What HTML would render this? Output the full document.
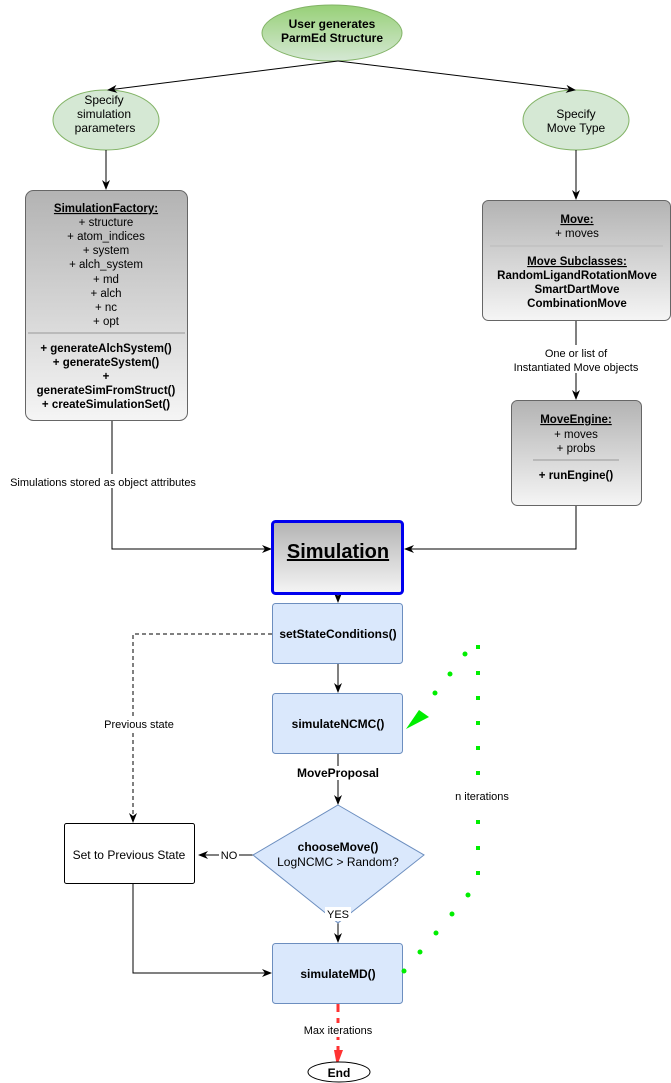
<!DOCTYPE html>
<html><head><meta charset="utf-8"><style>
body{margin:0;background:#fff}
svg{display:block;font-family:"Liberation Sans",Arial,sans-serif}
</style></head><body>
<svg width="671" height="1083" viewBox="0 0 671 1083" xmlns="http://www.w3.org/2000/svg">
<defs>
<linearGradient id="gg2" x1="0" y1="0" x2="0" y2="1"><stop offset="0" stop-color="#97d077"/><stop offset="1" stop-color="#d5e8d4"/></linearGradient>
<linearGradient id="gr" x1="0" y1="0" x2="0" y2="1"><stop offset="0" stop-color="#b3b3b3"/><stop offset="1" stop-color="#f5f5f5"/></linearGradient>
<marker id="a" viewBox="0 0 10 10" refX="9" refY="5" markerWidth="10" markerHeight="10" orient="auto" markerUnits="userSpaceOnUse"><path d="M0,1 L10,5 L0,9 L3,5z" fill="#000"/></marker>
</defs>
<ellipse cx="332" cy="33" rx="70" ry="28" fill="url(#gg2)" stroke="#82b366"/>
<ellipse cx="106" cy="120" rx="53" ry="30" fill="#d5e8d4" stroke="#82b366"/>
<ellipse cx="576" cy="120" rx="53" ry="30" fill="#d5e8d4" stroke="#82b366"/>
<g stroke="#000" stroke-width="1" fill="none">
<line x1="338" y1="61" x2="108" y2="90" marker-end="url(#a)"/>
<line x1="338" y1="61" x2="575" y2="90" marker-end="url(#a)"/>
<line x1="106" y1="150" x2="106" y2="189" marker-end="url(#a)"/>
<line x1="576" y1="150" x2="576" y2="199" marker-end="url(#a)"/>
<line x1="576" y1="320" x2="576" y2="399" marker-end="url(#a)"/>
<polyline points="112,420 112,549 271,549" marker-end="url(#a)"/>
<polyline points="576,505 576,549 405,549" marker-end="url(#a)"/>
<line x1="338" y1="594" x2="338" y2="602" marker-end="url(#a)"/>
<line x1="338" y1="663" x2="338" y2="692" marker-end="url(#a)"/>
<line x1="338" y1="753" x2="338" y2="804" marker-end="url(#a)"/>
<line x1="338" y1="923" x2="338" y2="942" marker-end="url(#a)"/>
<line x1="253" y1="855" x2="199" y2="855" marker-end="url(#a)"/>
<polyline points="272,634 133,634 133,822" stroke-dasharray="4,3" marker-end="url(#a)"/>
<polyline points="133,883 133,973 271,973" marker-end="url(#a)"/>
</g>
<line x1="338" y1="1004" x2="338" y2="1060" stroke="#ff3333" stroke-width="3" stroke-dasharray="8,6"/>
<path d="M334,1050 L343,1050 L337,1066z" fill="#ff3333"/>
<rect x="25.5" y="190.5" width="162" height="230" rx="8" fill="url(#gr)" stroke="#666"/>
<line x1="28" y1="333" x2="185" y2="333" stroke="#999"/>
<rect x="482.5" y="200.5" width="188" height="120" rx="6" fill="url(#gr)" stroke="#666"/>
<line x1="490" y1="246" x2="663" y2="246" stroke="#bbb"/>
<rect x="511.5" y="400.5" width="130" height="105" rx="6" fill="url(#gr)" stroke="#666"/>
<line x1="533" y1="460" x2="619" y2="460" stroke="#999"/>
<rect x="272.5" y="521.5" width="130" height="72" rx="3" fill="url(#gr)" stroke="#0000ee" stroke-width="3"/>
<rect x="272.5" y="603.5" width="130" height="60" rx="3" fill="#dae8fc" stroke="#6c8ebf"/>
<rect x="272.5" y="693.5" width="130" height="60" rx="3" fill="#dae8fc" stroke="#6c8ebf"/>
<rect x="272.5" y="943.5" width="130" height="60" rx="3" fill="#dae8fc" stroke="#6c8ebf"/>
<polygon points="338,805 424,855 338,923 253,855" fill="#dae8fc" stroke="#6c8ebf"/>
<rect x="64.5" y="823.5" width="130" height="60" rx="2" fill="#fff" stroke="#000"/>
<ellipse cx="339" cy="1072" rx="31" ry="10" fill="#fff" stroke="#000"/>
<g fill="#00ee00">
<rect x="476" y="645" width="4" height="4"/><rect x="476" y="671" width="4" height="4"/><rect x="476" y="696" width="4" height="4"/><rect x="476" y="721" width="4" height="4"/><rect x="476" y="746" width="4" height="4"/><rect x="476" y="771" width="4" height="4"/><rect x="476" y="820" width="4" height="4"/><rect x="476" y="846" width="4" height="4"/><rect x="476" y="871" width="4" height="4"/>
<circle cx="465" cy="654" r="2.5"/><circle cx="450" cy="674" r="2.5"/><circle cx="435" cy="693" r="2.5"/>
<circle cx="468" cy="895" r="2.5"/><circle cx="452" cy="914" r="2.5"/><circle cx="436" cy="933" r="2.5"/><circle cx="420" cy="952" r="2.5"/><circle cx="404" cy="971" r="2.5"/>
<path d="M406,729 L419,710 L429,717z"/>
</g>
<g font-size="12" text-anchor="middle" fill="#000">
<text x="332" y="28" font-weight="bold">User generates</text>
<text x="332" y="42" font-weight="bold">ParmEd Structure</text>
<text x="104" y="104">Specify</text><text x="104" y="118">simulation</text><text x="105" y="132">parameters</text>
<text x="576" y="118">Specify</text><text x="576" y="132">Move Type</text>
<g font-size="11.5">
<text x="106" y="212" font-weight="bold" text-decoration="underline">SimulationFactory:</text>
<text x="106" y="226">+ structure</text><text x="106" y="240">+ atom_indices</text><text x="106" y="254">+ system</text><text x="106" y="268">+ alch_system</text><text x="106" y="283">+ md</text><text x="106" y="297">+ alch</text><text x="106" y="311">+ nc</text><text x="106" y="325">+ opt</text>
<g font-weight="bold"><text x="106" y="352">+ generateAlchSystem()</text><text x="106" y="366">+ generateSystem()</text><text x="106" y="380">+</text><text x="106" y="394">generateSimFromStruct()</text><text x="106" y="408">+ createSimulationSet()</text></g>
<text x="577" y="223" font-weight="bold" text-decoration="underline">Move:</text>
<text x="577" y="237">+ moves</text>
<text x="577" y="265" font-weight="bold" text-decoration="underline">Move Subclasses:</text>
<g font-weight="bold"><text x="577" y="279">RandomLigandRotationMove</text><text x="577" y="293">SmartDartMove</text><text x="577" y="307">CombinationMove</text></g>
<text x="576" y="423" font-weight="bold" text-decoration="underline">MoveEngine:</text>
<text x="576" y="438">+ moves</text><text x="576" y="452">+ probs</text>
<text x="576" y="479" font-weight="bold">+ runEngine()</text>
</g>
<g font-size="11">
<rect x="530" y="345" width="94" height="28" fill="#fff"/>
<text x="576" y="357">One or list of</text><text x="576" y="371">Instantiated Move objects</text>
<rect x="2" y="474" width="202" height="14" fill="#fff"/>
<text x="103" y="486">Simulations stored as object attributes</text>
<rect x="100" y="717" width="78" height="14" fill="#fff"/>
<text x="139" y="728">Previous state</text>
<text x="482" y="800">n iterations</text>
<rect x="219" y="848" width="20" height="14" fill="#fff"/>
<text x="229" y="859">NO</text>
<rect x="325" y="907" width="26" height="14" fill="#fff"/>
<text x="338" y="918">YES</text>
<rect x="298" y="1023" width="80" height="14" fill="#fff"/>
<text x="338" y="1034">Max iterations</text>
</g>
<text x="338" y="558" font-size="20" font-weight="bold" text-decoration="underline">Simulation</text>
<g font-size="12" font-weight="bold">
<text x="338" y="638">setStateConditions()</text>
<text x="338" y="728">simulateNCMC()</text>
<rect x="295" y="766" width="86" height="14" fill="#fff"/>
<text x="338" y="777">MoveProposal</text>
<text x="338" y="851">chooseMove()</text>
<text x="338" y="978">simulateMD()</text>
<text x="339" y="1077">End</text>
</g>
<text x="338" y="866">LogNCMC &gt; Random?</text>
<text x="129" y="859">Set to Previous State</text>
</g>
</svg>
</body></html>
